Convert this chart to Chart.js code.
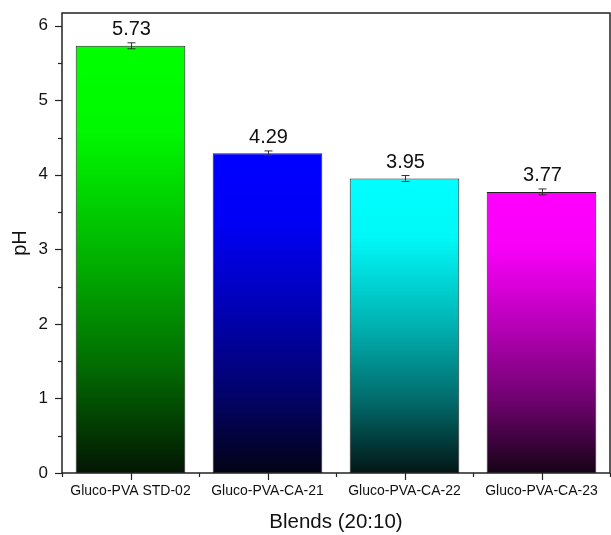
<!DOCTYPE html>
<html>
<head>
<meta charset="utf-8">
<script src="https://cdn.jsdelivr.net/npm/chart.js@4/dist/chart.umd.min.js"></script>
<style>
  html, body { margin: 0; padding: 0; background: #fff; }
  #wrap { width: 611px; height: 535px; }
</style>
</head>
<body>
<div id="wrap"><canvas id="myChart" width="611" height="535"></canvas></div>
<script>
const categories = ['Gluco-PVA STD-02', 'Gluco-PVA-CA-21', 'Gluco-PVA-CA-22', 'Gluco-PVA-CA-23'];
const phValues = [5.73, 4.29, 3.95, 3.77];
const phErrors = [0.04, 0.03, 0.04, 0.04];
const yTickValues = [0, 0.5, 1, 1.5, 2, 2.5, 3, 3.5, 4, 4.5, 5, 5.5, 6];
const barRGB = [[0, 255, 0], [0, 0, 255], [0, 255, 255], [255, 0, 255]];
// brightness along each bar, top (0) to bottom (1)
const shadeStops = [[0, 1], [0.2, 0.97], [0.5, 0.68], [0.75, 0.4], [1, 0.05]];

const FONT = '"Liberation Sans", Arial, sans-serif';

function shade(rgb, k) {
  return 'rgb(' + rgb.map(c => Math.round(c * k + 10 * (1 - k) * (c > 0 ? 1 : 0.3))).join(',') + ')';
}

// vertical gradient for each bar, from its top down to zero
function barGradient(context) {
  const chart = context.chart;
  const i = context.dataIndex;
  if (!chart.chartArea) return shade(barRGB[i], 1);
  const y = chart.scales.y;
  const top = y.getPixelForValue(phValues[i]);
  const bottom = y.getPixelForValue(0);
  const g = chart.ctx.createLinearGradient(0, top, 0, bottom);
  shadeStops.forEach(s => g.addColorStop(s[0], shade(barRGB[i], s[1])));
  return g;
}

// frame, tick marks, error bars and value labels
const decorations = {
  id: 'decorations',
  afterDatasetsDraw(chart) {
    const ctx = chart.ctx;
    const area = chart.chartArea;
    const x = chart.scales.x;
    const y = chart.scales.y;
    ctx.save();
    ctx.strokeStyle = '#222';
    ctx.lineWidth = 1.5;
    ctx.strokeRect(area.left, area.top, area.right - area.left, area.bottom - area.top);

    // y ticks (major on integers, minor on halves)
    ctx.lineWidth = 1.2;
    yTickValues.forEach(v => {
      const py = Math.round(y.getPixelForValue(v)) + 0.5;
      const len = Number.isInteger(v) ? 7 : 4;
      ctx.beginPath();
      ctx.moveTo(area.left - len, py);
      ctx.lineTo(area.left, py);
      ctx.stroke();
    });

    // x ticks (major at centres, minor at boundaries)
    const step = (area.right - area.left) / categories.length;
    categories.forEach((c, i) => {
      const px = Math.round(x.getPixelForValue(i)) + 0.5;
      ctx.beginPath();
      ctx.moveTo(px, area.bottom);
      ctx.lineTo(px, area.bottom + 7);
      ctx.stroke();
    });
    for (let i = 0; i <= categories.length; i++) {
      const px = Math.round(area.left + i * step) + 0.5;
      ctx.beginPath();
      ctx.moveTo(px, area.bottom);
      ctx.lineTo(px, area.bottom + 4);
      ctx.stroke();
    }

    // error bars and values
    ctx.lineWidth = 1;
    ctx.strokeStyle = '#333';
    ctx.fillStyle = '#111';
    ctx.font = '20px ' + FONT;
    ctx.textAlign = 'center';
    ctx.textBaseline = 'bottom';
    phValues.forEach((v, i) => {
      const px = Math.round(x.getPixelForValue(i)) + 0.5;
      const hi = y.getPixelForValue(v + phErrors[i]);
      const lo = y.getPixelForValue(v - phErrors[i]);
      ctx.beginPath();
      ctx.moveTo(px, hi); ctx.lineTo(px, lo);
      ctx.moveTo(px - 4, hi); ctx.lineTo(px + 4, hi);
      ctx.moveTo(px - 4, lo); ctx.lineTo(px + 4, lo);
      ctx.stroke();
      ctx.fillText(v.toFixed(2), px, hi - 3);
    });
    ctx.restore();
  }
};

const chart = new Chart(document.getElementById('myChart').getContext('2d'), {
  type: 'bar',
  data: {
    labels: categories,
    datasets: [{
      label: 'pH',
      data: phValues,
      backgroundColor: barGradient,
      borderColor: '#222',
      borderWidth: 1,
      borderSkipped: false,
      barPercentage: 0.8,
      categoryPercentage: 1
    }]
  },
  options: {
    responsive: false,
    animation: false,
    layout: { padding: { top: 13, right: 1, left: 0, bottom: 0 } },
    plugins: {
      legend: { display: false },
      tooltip: { enabled: false }
    },
    scales: {
      x: {
        grid: { display: false },
        border: { display: false },
        ticks: {
          color: '#111',
          font: { family: FONT, size: 14 },
          padding: 2,
          maxRotation: 0,
          autoSkip: false
        },
        title: {
          display: true,
          text: 'Blends (20:10)',
          color: '#111',
          font: { family: FONT, size: 20.5 },
          padding: { top: 5, bottom: 0 }
        },
        afterFit: s => { s.height = 62; s.paddingLeft = 0; s.paddingRight = 0; }
      },
      y: {
        min: 0,
        max: 6.17,
        afterBuildTicks: s => { s.ticks = yTickValues.map(v => ({ value: v })); },
        grid: { display: false },
        border: { display: false },
        ticks: {
          color: '#111',
          font: { family: FONT, size: 17 },
          padding: 6,
          callback: v => Number.isInteger(v) ? String(v) : ''
        },
        title: {
          display: true,
          text: 'pH',
          color: '#111',
          font: { family: FONT, size: 20 },
          padding: { top: 8, bottom: 4 }
        },
        afterFit: s => { s.width = 62; s.paddingTop = 0; s.paddingBottom = 0; }
      }
    }
  },
  plugins: [decorations]
});
</script>
</body>
</html>
